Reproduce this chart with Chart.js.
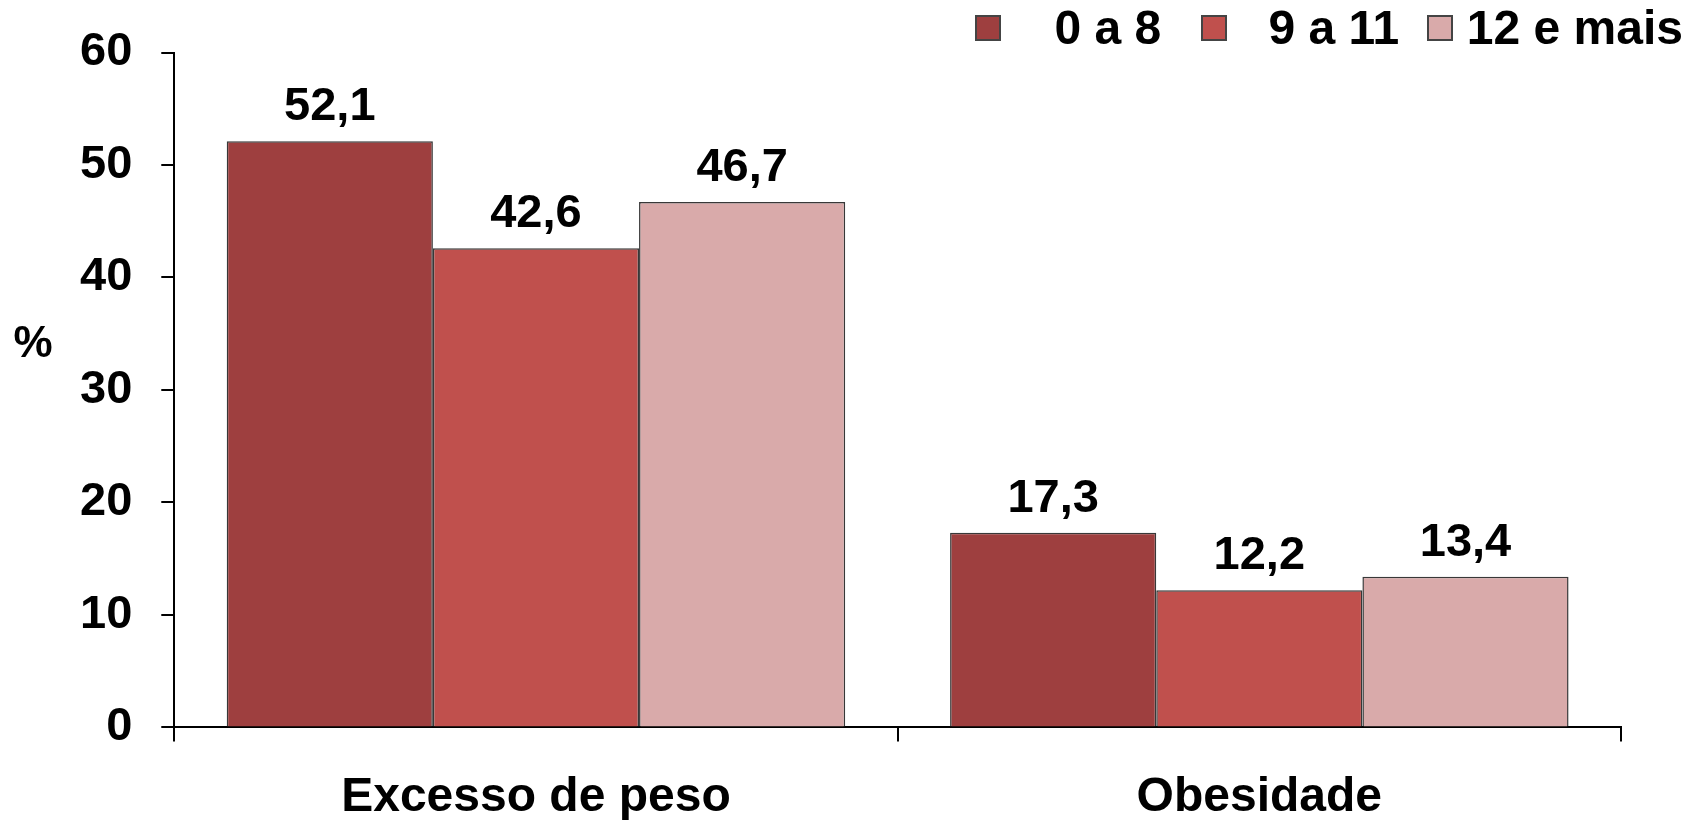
<!DOCTYPE html>
<html lang="pt">
<head>
<meta charset="utf-8">
<title>Excesso de peso e obesidade por escolaridade</title>
<script src="https://cdn.jsdelivr.net/npm/chart.js@4.4.1/dist/chart.umd.min.js"></script>
<style>
  html, body { margin: 0; padding: 0; background: #fff; }
  #wrap { position: relative; width: 1689px; height: 820px; }
  #legend {
    position: absolute; top: 4px; right: 6px;
    display: flex; align-items: center;
    font: bold 48px "Liberation Sans", Arial, sans-serif; color: #000;
  }
  .lg-box { width: 22px; height: 22px; border: 2px solid #444; flex: none; }
  .lg-text { box-sizing: border-box; min-width: 200px; padding-left: 14px; text-align: center; line-height: 1; }
</style>
</head>
<body>
<div id="wrap">
  <canvas id="chart" width="1689" height="820"></canvas>
  <div id="legend"></div>
</div>
<script>
// Categorias e séries (anos de escolaridade)
const categories = ["Excesso de peso", "Obesidade"];
const seriesNames = ["0 a 8", "9 a 11", "12 e mais"];
const serie0a8 = [52.1, 17.3];
const serie9a11 = [42.6, 12.2];
const serie12mais = [46.7, 13.4];
const yTicks = [0, 10, 20, 30, 40, 50, 60];

const colors = ["#9E3F3F", "#C0504D", "#D9AAAA"];
const FONT = "'Liberation Sans', Arial, sans-serif";

// Legenda em HTML (caixas + textos)
const legend = document.getElementById("legend");
seriesNames.forEach((name, i) => {
  legend.innerHTML += `<span class="lg-box" style="background:${colors[i]}"></span><span class="lg-text">${name}</span>`;
});

// Plugin para escrever os valores em cima das barras
const valueLabels = {
  id: "valueLabels",
  afterDatasetsDraw(chart) {
    const ctx = chart.ctx;
    ctx.save();
    ctx.font = `bold 47px ${FONT}`;
    ctx.fillStyle = "#000";
    ctx.textAlign = "center";
    ctx.textBaseline = "alphabetic";
    chart.data.datasets.forEach((ds, i) => {
      chart.getDatasetMeta(i).data.forEach((bar, j) => {
        const txt = ds.data[j].toFixed(1).replace(".", ",");
        ctx.fillText(txt, bar.x, bar.y - 21);
      });
    });
    ctx.restore();
  },
};

// Plugin para o título "%" na horizontal
const percentTitle = {
  id: "percentTitle",
  afterDraw(chart) {
    const ctx = chart.ctx;
    ctx.save();
    ctx.font = `bold 44px ${FONT}`;
    ctx.fillStyle = "#000";
    ctx.textAlign = "center";
    ctx.textBaseline = "middle";
    ctx.fillText("%", 33, 345);
    ctx.restore();
  },
};

const makeDataset = (label, data, color) => ({
  label: label,
  data: data,
  backgroundColor: color,
  borderColor: "#383838",
  borderWidth: 1.5,
  borderSkipped: "bottom",
  barPercentage: 1,
  categoryPercentage: 0.855,
});

new Chart(document.getElementById("chart").getContext("2d"), {
  type: "bar",
  data: {
    labels: categories,
    datasets: [
      makeDataset(seriesNames[0], serie0a8, colors[0]),
      makeDataset(seriesNames[1], serie9a11, colors[1]),
      makeDataset(seriesNames[2], serie12mais, colors[2]),
    ],
  },
  options: {
    responsive: false,
    animation: false,
    devicePixelRatio: 1,
    // o eixo x ocupa mais altura do que o espaço por baixo (padding duplicado no fit)
    layout: { padding: { left: 51, top: 40, right: 68, bottom: -35 } },
    plugins: {
      legend: { display: false },
      tooltip: { enabled: false },
    },
    scales: {
      x: {
        offset: true,
        border: { display: true, color: "#000", width: 2 },
        grid: {
          offset: true,
          drawOnChartArea: false,
          drawTicks: true,
          tickLength: 14,
          color: "#000",
          lineWidth: 2,
        },
        ticks: {
          color: "#000",
          padding: 28,
          font: { family: FONT, size: 48, weight: "bold" },
        },
      },
      y: {
        min: 0,
        max: 60,
        afterBuildTicks(scale) {
          scale.ticks = yTicks.map((v) => ({ value: v }));
        },
        border: { display: true, color: "#000", width: 2 },
        grid: {
          drawOnChartArea: false,
          drawTicks: true,
          tickLength: 13,
          color: "#000",
          lineWidth: 2,
        },
        ticks: {
          color: "#000",
          padding: 29,
          font: { family: FONT, size: 47, weight: "bold", lineHeight: 1 },
        },
      },
    },
  },
  plugins: [valueLabels, percentTitle],
});
</script>
</body>
</html>
